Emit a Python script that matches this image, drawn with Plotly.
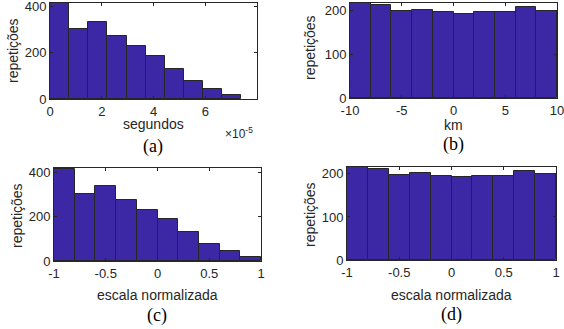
import plotly.graph_objects as go

# ---------------- data ----------------
# (a) time histogram (seconds), 10 bins
a_bin_start = 0.0
a_bin_width = 0.74e-5
a_counts = [415, 303, 335, 274, 229, 188, 129, 76, 44, 19]

# (b) distance histogram (km), 10 bins
b_bin_start = -10.0
b_bin_width = 2.0
b_counts = [216, 213, 199, 202, 197, 193, 197, 197, 207, 199]

# (c) normalized (a)
c_bin_start = -1.0
c_bin_width = 0.2
c_counts = [415, 303, 335, 274, 229, 188, 129, 76, 44, 19]

# (d) normalized (b)
d_bin_start = -1.0
d_bin_width = 0.2
d_counts = [216, 212, 198, 201, 196, 192, 196, 196, 206, 199]

a_xticks = [0, 2e-5, 4e-5, 6e-5]
a_xticktext = ["0", "2", "4", "6"]
b_xticks = [-10, -5, 0, 5, 10]
b_xticktext = ["-10", "-5", "0", "5", "10"]
n_xticks = [-1, -0.5, 0, 0.5, 1]
n_xticktext = ["-1", "-0.5", "0", "0.5", "1"]
a_yticks = [0, 200, 400]
b_yticks = [0, 100, 200]

xtitles = ["segundos", "km", "escala normalizada", "escala normalizada"]
ytitle = "repetições"
captions = ["(a)", "(b)", "(c)", "(d)"]

# ---------------- layout ----------------
W, H = 564, 329
BAR = "#3c28a4"
EDGE = "#262626"
AX = "#262626"

def px_x(v):
    return v / W

def px_y(v):
    return 1 - v / H

panels = [
    dict(x=(50, 257), y=(3, 99), start=a_bin_start, width=a_bin_width, counts=a_counts,
         xr=[0, 8e-5], yr=[0, 415], xt=a_xticks, xtt=a_xticktext, yt=a_yticks),
    dict(x=(350, 557), y=(3, 98), start=b_bin_start, width=b_bin_width, counts=b_counts,
         xr=[-10, 10], yr=[0, 217], xt=b_xticks, xtt=b_xticktext, yt=b_yticks),
    dict(x=(54, 261), y=(168, 261), start=c_bin_start, width=c_bin_width, counts=c_counts,
         xr=[-1, 1], yr=[0, 418], xt=n_xticks, xtt=n_xticktext, yt=a_yticks),
    dict(x=(347, 556), y=(167, 260), start=d_bin_start, width=d_bin_width, counts=d_counts,
         xr=[-1, 1], yr=[0, 216], xt=n_xticks, xtt=n_xticktext, yt=b_yticks),
]

fig = go.Figure()
layout = dict(
    width=W, height=H, margin=dict(l=0, r=0, t=0, b=0, autoexpand=False),
    paper_bgcolor="white", plot_bgcolor="white", showlegend=False,
    font=dict(family="Liberation Sans, Arial, sans-serif", size=13, color="#262626"),
    bargap=0,
)

for i, p in enumerate(panels):
    n = i + 1
    xa = "x" if n == 1 else f"x{n}"
    ya = "y" if n == 1 else f"y{n}"
    centers = [p["start"] + p["width"] * (k + 0.5) for k in range(len(p["counts"]))]
    fig.add_trace(go.Bar(
        x=centers, y=p["counts"], width=[p["width"]] * len(centers),
        marker=dict(color=BAR, line=dict(color=EDGE, width=1)),
        xaxis=xa, yaxis=ya, hoverinfo="x+y",
    ))
    common = dict(showgrid=False, zeroline=False, showline=True, linecolor=AX, linewidth=1,
                  mirror="ticks", ticks="inside", ticklen=3, tickcolor=AX, automargin=False,
                  ticklabeloverflow="allow",
                  tickfont=dict(size=13, color="#262626"))
    layout["xaxis" if n == 1 else f"xaxis{n}"] = dict(
        domain=[px_x(p["x"][0]), px_x(p["x"][1])], anchor=ya, range=p["xr"],
        tickvals=p["xt"], ticktext=p["xtt"], **common)
    layout["yaxis" if n == 1 else f"yaxis{n}"] = dict(
        domain=[px_y(p["y"][1]), px_y(p["y"][0])], anchor=xa, range=p["yr"],
        tickvals=p["yt"], **common)

annotations = []
# x-axis titles (pixel centers)
xt_pos = [(153, 124), (453, 125), (157, 295), (451, 295)]
for (cx, cy), t in zip(xt_pos, xtitles):
    annotations.append(dict(x=px_x(cx), y=px_y(cy), xref="paper", yref="paper", text=t,
                            showarrow=False, xanchor="center", yanchor="middle",
                            font=dict(size=14, color="#262626")))
# y titles
yt_pos = [(13, 51), (310, 48), (17, 216), (310, 215)]
for cx, cy in yt_pos:
    annotations.append(dict(x=px_x(cx), y=px_y(cy), xref="paper", yref="paper", text=ytitle,
                            showarrow=False, textangle=-90, xanchor="center", yanchor="middle",
                            font=dict(size=14, color="#262626")))
# captions
cap_pos = [(153, 146), (453, 144), (157, 315), (451, 314)]
for (cx, cy), t in zip(cap_pos, captions):
    annotations.append(dict(x=px_x(cx), y=px_y(cy), xref="paper", yref="paper", text=t,
                            showarrow=False, xanchor="center", yanchor="middle",
                            font=dict(family="Liberation Serif, Times New Roman, serif", size=18, color="black")))
# exponent label for (a)
annotations.append(dict(x=px_x(239), y=px_y(133), xref="paper", yref="paper",
                        text="×10<sup>-5</sup>", showarrow=False, xanchor="center", yanchor="middle",
                        font=dict(size=12, color="#262626")))
layout["annotations"] = annotations

fig.update_layout(**layout)
fig.write_html("out.html", config={"displayModeBar": False},
               post_script="document.body.style.margin='0px';document.body.style.overflow='hidden';")
